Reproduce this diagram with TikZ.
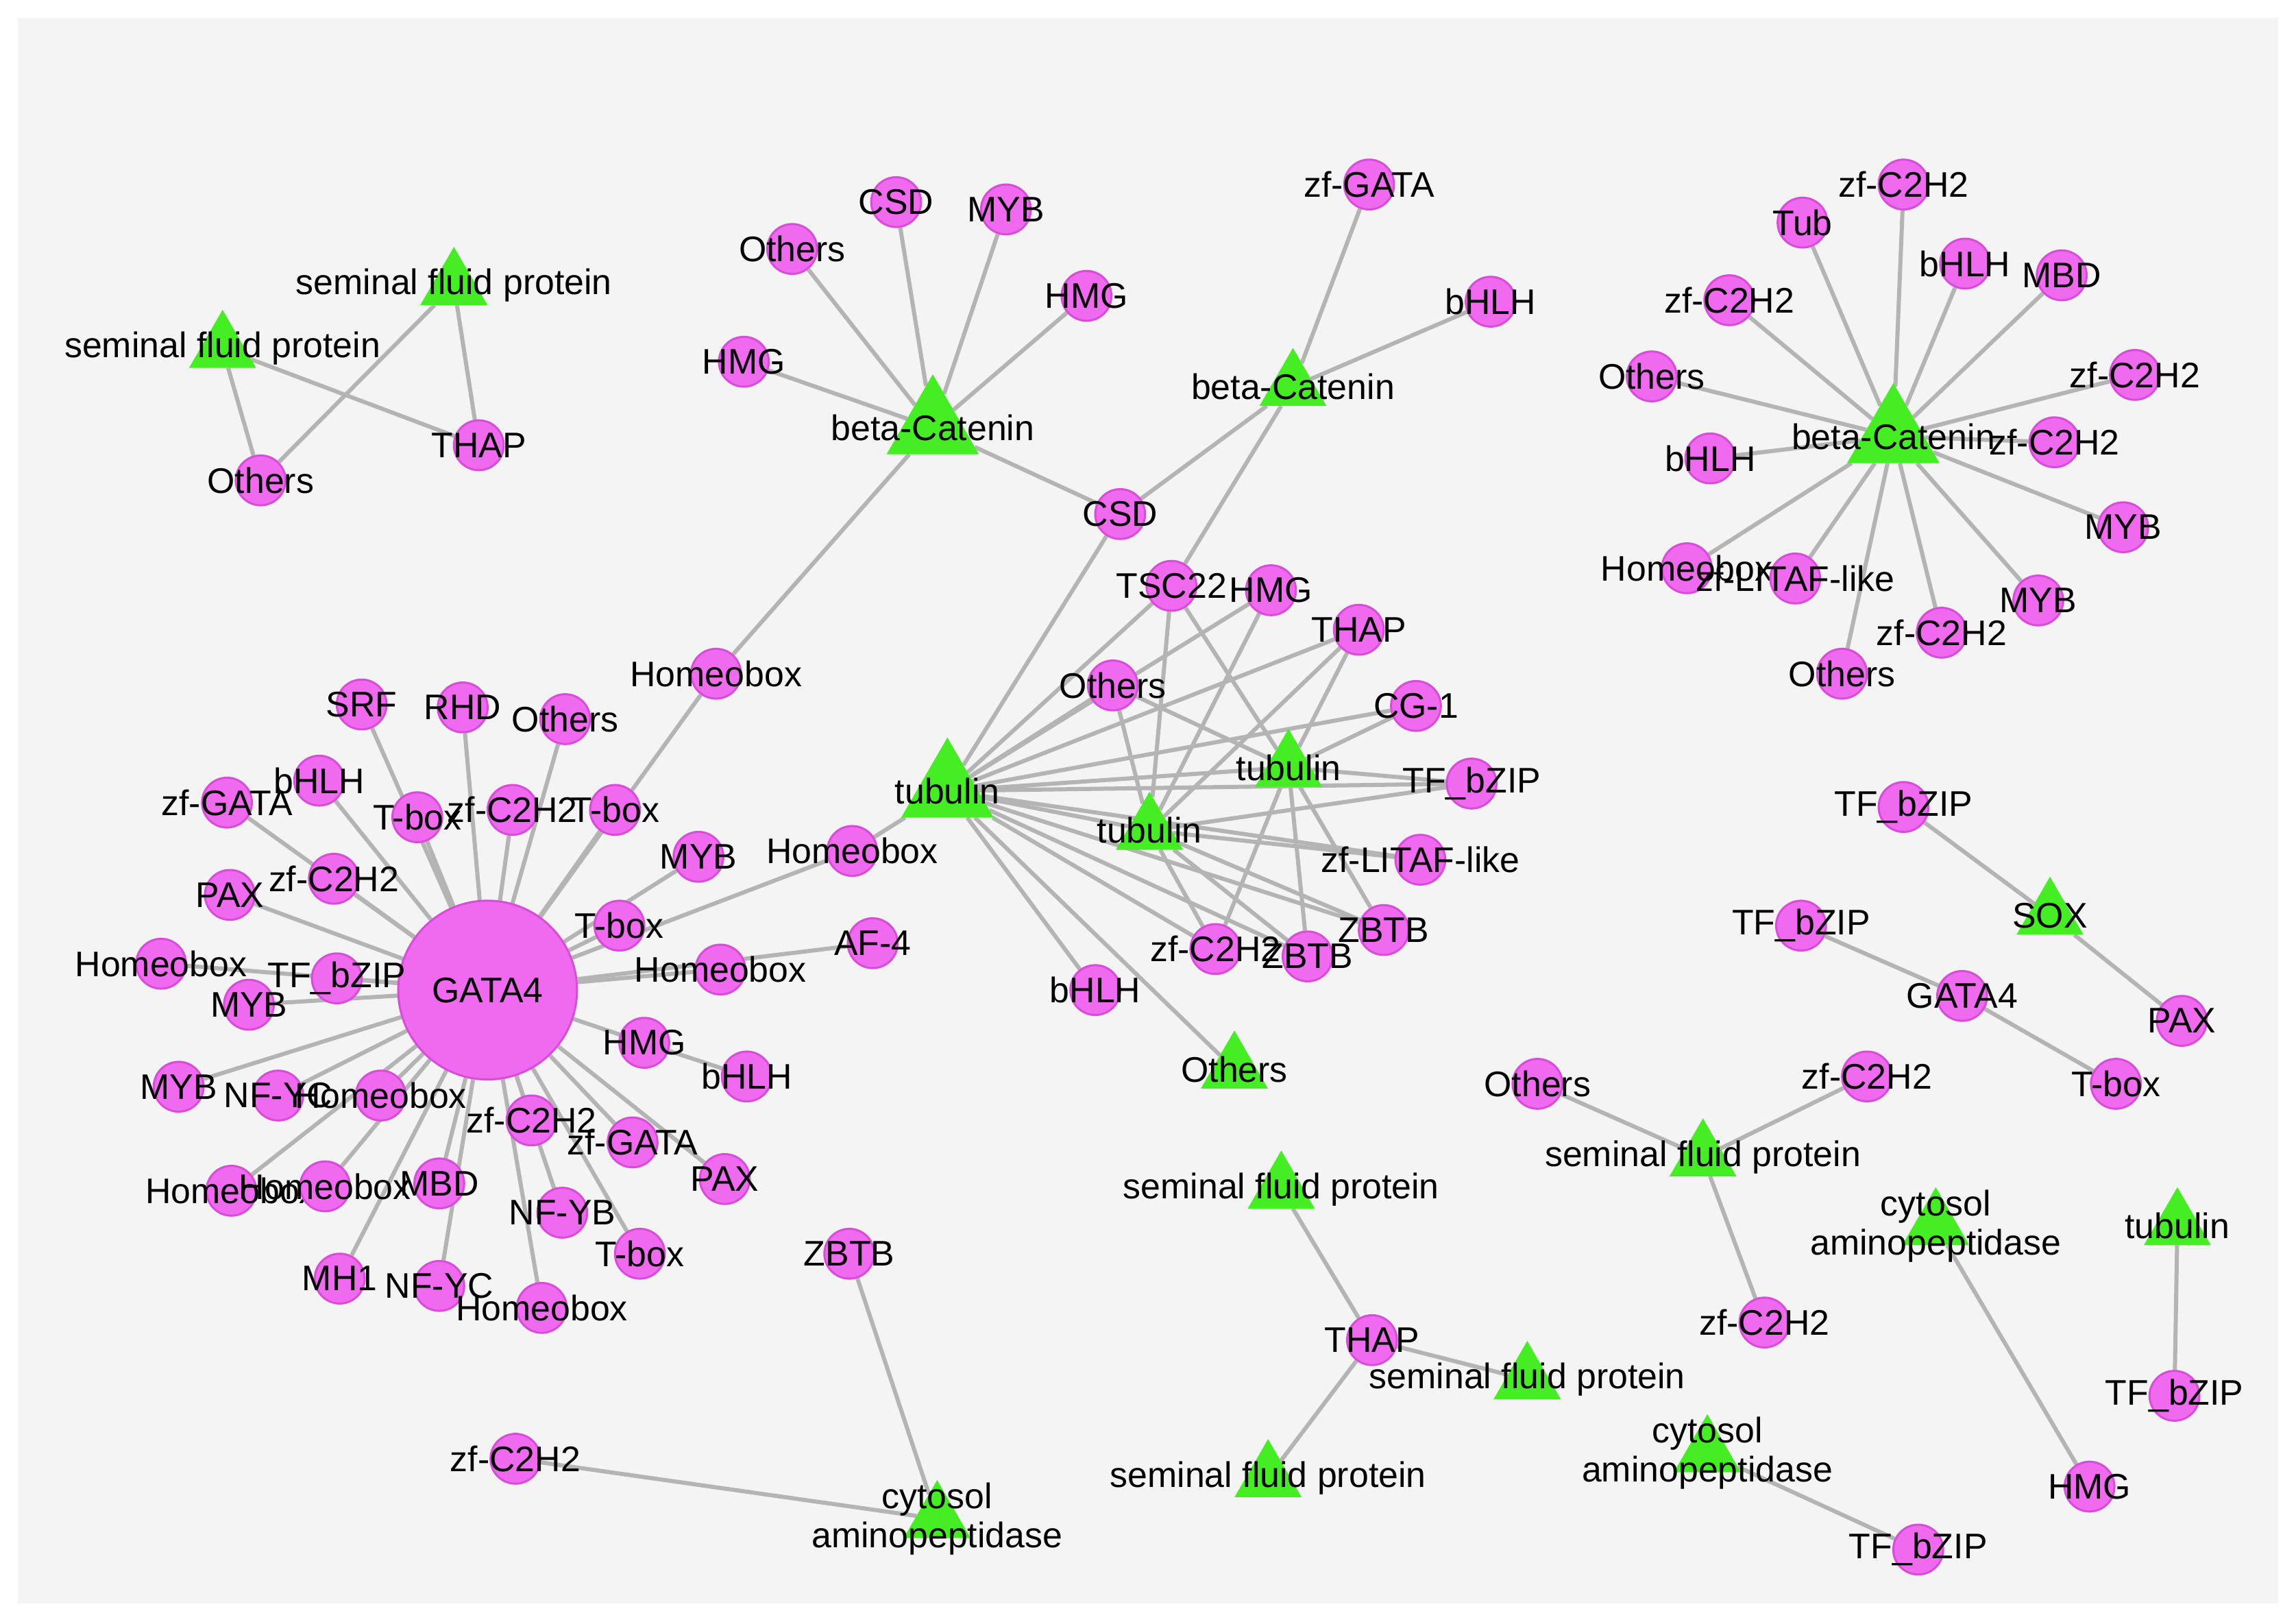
\documentclass[tikz,border=0pt]{standalone}
\usepackage{fontspec}
\setmainfont{Liberation Sans}
\usetikzlibrary{shapes.geometric,backgrounds}
\definecolor{tfpink}{HTML}{F06AF0}
\definecolor{tfedge}{HTML}{D94CD9}
\definecolor{gnode}{HTML}{44EE22}
\definecolor{linkgray}{HTML}{B4B4B4}
\definecolor{canvas}{HTML}{F4F4F4}

\begin{document}
\begin{tikzpicture}[
    x=0.01cm, y=-0.01cm,
    lab/.style={font=\fontsize{6.9}{7.6}\selectfont, text=black, inner sep=0pt, align=center},
    tf/.style={
        circle,
        fill=tfpink,
        draw=tfedge,
        line width=0.4pt,
        minimum size=0.34cm,
        inner sep=0pt,
        label={[lab]center:#1}
    },
    hub/.style={tf=#1, minimum size=1.22cm},
    prot/.style={
        regular polygon,
        regular polygon sides=3,
        fill=gnode,
        draw=gnode,
        minimum size=0.5cm,
        inner sep=0pt,
        label={[lab]center:#1}
    },
    bigprot/.style={prot=#1, minimum size=0.7cm},
    link/.style={draw=linkgray, line width=0.8pt}
]
\useasboundingbox (0,0) rectangle (1568,1107);

% Top-left group
\node[prot={seminal fluid protein}] (sfpA) at (310,195) {};
\node[prot={seminal fluid protein}] (sfpB) at (152,238) {};
\node[tf=THAP] (thapA) at (327,304) {};
\node[tf=Others] (othA) at (178,328) {};

% beta-Catenin hubs
\node[bigprot=beta-Catenin] (bcA) at (637,292) {};
\node[prot=beta-Catenin] (bcB) at (883,264) {};
\node[tf=Others] (b1) at (541,170) {};
\node[tf=CSD] (b2) at (612,138) {};
\node[tf=MYB] (b3) at (687,143) {};
\node[tf=HMG] (b4) at (742,202) {};
\node[tf=HMG] (b5) at (508,247) {};
\node[tf=CSD] (csd) at (765,351) {};
\node[tf=Homeobox] (hbx) at (489,460) {};
\node[tf=zf-GATA] (b6) at (935,126) {};
\node[tf=bHLH] (b7) at (1018,206) {};

% GATA4 hub
\node[hub=GATA4] (gata) at (333,676) {};
\node[tf=SRF] (g1) at (247,481) {};
\node[tf=RHD] (g2) at (316,483) {};
\node[tf=Others] (g3) at (386,491) {};
\node[tf=zf-GATA] (g4) at (155,548) {};
\node[tf=bHLH] (g5) at (218,533) {};
\node[tf=T-box] (g6) at (285,558) {};
\node[tf=zf-C2H2] (g7) at (350,553) {};
\node[tf=T-box] (g8) at (420,553) {};
\node[tf=MYB] (g9) at (477,585) {};
\node[tf=zf-C2H2] (g10) at (228,600) {};
\node[tf=PAX] (g11) at (157,611) {};
\node[tf=T-box] (g12) at (423,632) {};
\node[tf=Homeobox] (g13) at (110,658) {};
\node[tf=TF\_bZIP] (g14) at (230,668) {};
\node[tf=MYB] (g15) at (170,686) {};
\node[tf=Homeobox] (g16) at (492,662) {};
\node[tf=AF-4] (g17) at (596,644) {};
\node[tf=HMG] (g18) at (440,712) {};
\node[tf=bHLH] (g19) at (510,735) {};
\node[tf=MYB] (g20) at (122,742) {};
\node[tf=NF-YC] (g21) at (190,748) {};
\node[tf=Homeobox] (g22) at (260,748) {};
\node[tf=zf-C2H2] (g23) at (363,765) {};
\node[tf=zf-GATA] (g24) at (432,780) {};
\node[tf=PAX] (g25) at (495,805) {};
\node[tf=Homeobox] (g26) at (158,813) {};
\node[tf=Homeobox] (g27) at (222,810) {};
\node[tf=MBD] (g28) at (300,808) {};
\node[tf=NF-YB] (g29) at (384,828) {};
\node[tf=T-box] (g30) at (437,856) {};
\node[tf=MH1] (g31) at (232,873) {};
\node[tf=NF-YC] (g32) at (300,878) {};
\node[tf=Homeobox] (g33) at (370,893) {};
\node[tf=Homeobox] (hbxB) at (582,581) {};

% tubulin cluster
\node[bigprot=tubulin] (tubA) at (647,540) {};
\node[prot=tubulin] (tubB) at (785,567) {};
\node[prot=tubulin] (tubC) at (880,524) {};
\node[tf=TSC22] (t1) at (800,400) {};
\node[tf=HMG] (t2) at (868,403) {};
\node[tf=THAP] (t3) at (928,430) {};
\node[tf=Others] (t4) at (760,468) {};
\node[tf=CG-1] (t5) at (967,482) {};
\node[tf=TF\_bZIP] (t6) at (1005,535) {};
\node[tf=zf-LITAF-like] (t7) at (970,587) {};
\node[tf=ZBTB] (t8) at (945,635) {};
\node[tf=ZBTB] (t9) at (893,653) {};
\node[tf=zf-C2H2] (t10) at (830,648) {};
\node[tf=bHLH] (t11) at (748,676) {};
\node[prot=Others] (t12) at (843,730) {};

% right beta-Catenin star
\node[bigprot=beta-Catenin] (bcC) at (1293,298) {};
\node[tf=zf-C2H2] (c1) at (1300,126) {};
\node[tf=Tub] (c2) at (1231,152) {};
\node[tf=bHLH] (c3) at (1342,180) {};
\node[tf=MBD] (c4) at (1408,188) {};
\node[tf=zf-C2H2] (c5) at (1181,205) {};
\node[tf=zf-C2H2] (c6) at (1458,256) {};
\node[tf=Others] (c7) at (1128,257) {};
\node[tf=zf-C2H2] (c8) at (1403,302) {};
\node[tf=bHLH] (c9) at (1168,313) {};
\node[tf=MYB] (c10) at (1450,360) {};
\node[tf=Homeobox] (c11) at (1152,388) {};
\node[tf=zf-LITAF-like] (c12) at (1226,395) {};
\node[tf=MYB] (c13) at (1392,410) {};
\node[tf=zf-C2H2] (c14) at (1326,432) {};
\node[tf=Others] (c15) at (1258,460) {};

% small groups, lower right
\node[prot=SOX] (sox) at (1400,625) {};
\node[tf=TF\_bZIP] (s1) at (1300,551) {};
\node[tf=PAX] (s2) at (1490,697) {};
\node[tf=GATA4] (gataB) at (1340,680) {};
\node[tf=TF\_bZIP] (s3) at (1230,632) {};
\node[tf=T-box] (s4) at (1445,740) {};
\node[prot={seminal fluid protein}] (sfpC) at (1163,790) {};
\node[tf=Others] (s5) at (1050,740) {};
\node[tf=zf-C2H2] (s6) at (1275,735) {};
\node[tf=zf-C2H2] (s7) at (1205,903) {};
\node[prot={cytosol\\aminopeptidase}] (cytA) at (1322,837) {};
\node[tf=HMG] (s8) at (1427,1015) {};
\node[prot=tubulin] (tubD) at (1487,837) {};
\node[tf=TF\_bZIP] (s9) at (1485,953) {};
\node[prot={seminal fluid protein}] (sfpD) at (875,812) {};
\node[tf=THAP] (thapB) at (937,915) {};
\node[prot={seminal fluid protein}] (sfpE) at (1043,942) {};
\node[prot={seminal fluid protein}] (sfpF) at (866,1009) {};
\node[prot={cytosol\\aminopeptidase}] (cytB) at (1166,992) {};
\node[tf=TF\_bZIP] (s10) at (1310,1058) {};
\node[prot={cytosol\\aminopeptidase}] (cytC) at (640,1037) {};
\node[tf=ZBTB] (s11) at (580,856) {};
\node[tf=zf-C2H2] (s12) at (352,996) {};

% links
\begin{scope}[on background layer]
\fill[white] (0,0) rectangle (1568,1107);
\fill[canvas] (12,12) rectangle (1556,1095);
\path[link] (sfpA) -- (thapA) (sfpA) -- (othA) (sfpB) -- (othA) (sfpB) -- (thapA);
\foreach \n in {b1,b2,b3,b4,b5,csd,hbx} \path[link] (bcA) -- (\n);
\foreach \n in {b6,b7,csd,t1} \path[link] (bcB) -- (\n);
\foreach \n in {g1,g2,g3,g4,g5,g6,g7,g8,g9,g10,g11,g12,g13,g14,g15,g16,g17,g18,g20,g21,g22,g23,g24,g25,g26,g27,g28,g29,g30,g31,g32,g33,hbx,hbxB}
    \path[link] (gata) -- (\n);
\path[link] (g18) -- (g19);
\foreach \n in {hbxB,csd,t1,t2,t3,t4,t5,t6,t7,t8,t9,t10,t11,t12,tubB,tubC}
    \path[link] (tubA) -- (\n);
\foreach \n in {t1,t2,t3,t4,t6,t7,t8,t9,t10}
    \path[link] (tubB) -- (\n);
\foreach \n in {t1,t3,t4,t5,t6,t8,t9,t10}
    \path[link] (tubC) -- (\n);
\foreach \n in {c1,c2,c3,c4,c5,c6,c7,c8,c9,c10,c11,c12,c13,c14,c15}
    \path[link] (bcC) -- (\n);
\path[link] (sox) -- (s1) (sox) -- (s2) (gataB) -- (s3) (gataB) -- (s4);
\path[link] (sfpC) -- (s5) (sfpC) -- (s6) (sfpC) -- (s7);
\path[link] (cytA) -- (s8) (tubD) -- (s9);
\path[link] (sfpD) -- (thapB) (thapB) -- (sfpE) (thapB) -- (sfpF);
\path[link] (cytB) -- (s10) (cytC) -- (s11) (cytC) -- (s12);
\end{scope}
\end{tikzpicture}
\end{document}
